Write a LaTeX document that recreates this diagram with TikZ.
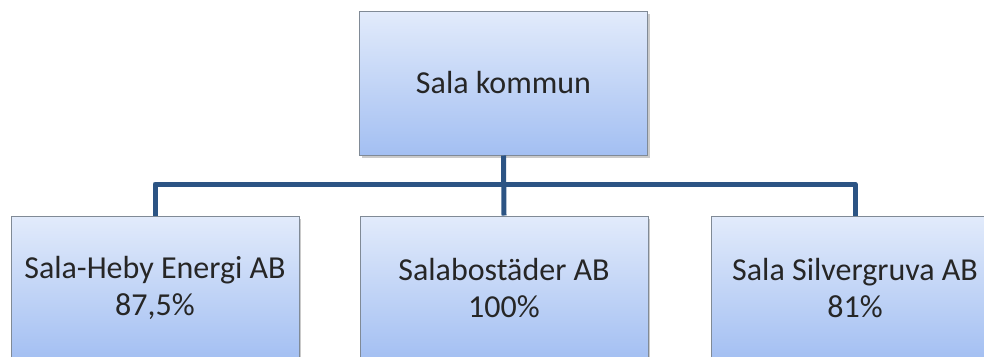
\documentclass[tikz,border=0pt]{standalone}
\usepackage{fontspec}
\setmainfont{Carlito}
\usetikzlibrary{shadows}
\definecolor{conncol}{RGB}{44,84,132}
\definecolor{boxtop}{RGB}{226,235,251}
\definecolor{boxbot}{RGB}{163,191,242}
\definecolor{boxline}{RGB}{128,138,150}
\definecolor{txt}{RGB}{38,38,38}
\tikzset{
  orgbox/.style={draw=boxline, line width=1pt, top color=boxtop, bottom color=boxbot,
    minimum width=288pt, minimum height=144pt, inner sep=0pt, align=center,
    font=\fontsize{32}{37}\selectfont, text=txt,
    drop shadow={shadow xshift=2pt, shadow yshift=-3pt, opacity=0.35, fill=black!60}},
  conn/.style={draw=conncol, line width=5pt, line join=round}
}
\begin{document}
\begin{tikzpicture}[x=1pt,y=1pt]
\useasboundingbox (0,0) rectangle (984,-356);
\clip (0,0) rectangle (984,-356);
\node[orgbox] (top) at (503.5,-83) {Sala kommun};
\node[orgbox] (left) at (155,-288) {Sala-Heby Energi AB\\87,5\%};
\node[orgbox] (mid) at (504,-288) {Salabostäder AB\\100\%};
\node[orgbox] (right) at (855,-288) {Sala Silvergruva AB\\81\%};
\coordinate (bus) at (504,-184);
\draw[conn] (left.north) |- (bus) -| (right.north);
\draw[conn] (top.south) -- (mid.north);
\end{tikzpicture}
\end{document}
